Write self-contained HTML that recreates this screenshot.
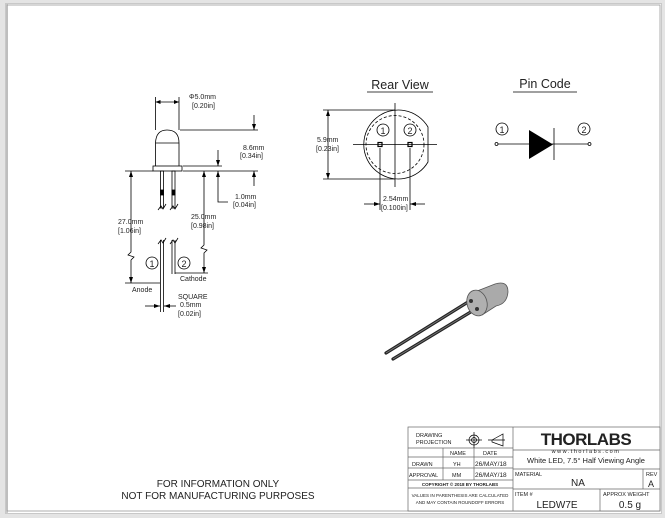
<!DOCTYPE html>
<html><head><meta charset="utf-8"><style>
html,body{margin:0;padding:0;background:#fff}
svg{display:block}
text{font-family:"Liberation Sans",sans-serif;fill:#222}
</style></head><body>
<svg width="665" height="518" viewBox="0 0 665 518" xmlns="http://www.w3.org/2000/svg">
<rect x="0" y="0" width="665" height="518" fill="#e4e4e4"/>
<rect x="5" y="3" width="657" height="511" fill="#fff"/>
<rect x="5.5" y="3.5" width="656" height="510" fill="none" stroke="#c8c8c8"/>
<line x1="7" y1="4" x2="7" y2="513" stroke="#bbb" stroke-width="1.5"/>
<rect x="7" y="5" width="653" height="506" fill="none" stroke="#999" stroke-width="0.8"/>

<g stroke="#000" stroke-width="0.8" fill="none">
<path d="M155.5,166 L155.5,143 Q156,130 167,130 Q179,130 179,143 L179,166"/>
<line x1="155.5" y1="143" x2="179" y2="143"/>
<rect x="153" y="166" width="29" height="5"/>
<rect x="160.5" y="171" width="3" height="37"/>
<rect x="172" y="171" width="3" height="37"/>
<rect x="160.5" y="190" width="3" height="5" fill="#000"/>
<rect x="172" y="190" width="3" height="5" fill="#000"/>
<path d="M158,210 l3,-4 l2,3 l3,-5 M170,210 l3,-4 l2,3 l3,-5"/>
<path d="M158,244 l3,-4 l2,3 l3,-5 M170,244 l3,-4 l2,3 l3,-5"/>
<line x1="160.5" y1="240" x2="160.5" y2="312"/><line x1="163.5" y1="240" x2="163.5" y2="312"/>
<line x1="172" y1="240" x2="172" y2="274"/><line x1="175" y1="240" x2="175" y2="274"/>
<line x1="155.5" y1="97" x2="155.5" y2="130"/><line x1="179" y1="97" x2="179" y2="130"/>
<line x1="155.5" y1="102" x2="179" y2="102"/>
<line x1="180" y1="130" x2="258" y2="130"/>
<line x1="254" y1="115" x2="254" y2="130"/>
<line x1="254" y1="171" x2="254" y2="186"/>
<line x1="125" y1="171" x2="153" y2="171"/>
<line x1="183" y1="171" x2="258" y2="171"/>
<line x1="183" y1="166" x2="222" y2="166"/>
<line x1="218" y1="150" x2="218" y2="166"/>
<path d="M218,171 L218,202 L228,202"/>
<path d="M131,171 L131,252 l-3,3 l6,2 l-3,3 L131,283"/>
<line x1="125" y1="283" x2="160" y2="283"/>
<path d="M204,171 L204,245 l-3,3 l6,2 l-3,3 L204,273"/>
<line x1="175" y1="273" x2="208" y2="273"/>
<circle cx="152" cy="263" r="6"/><circle cx="184" cy="263" r="6"/>
<line x1="145" y1="306" x2="160" y2="306"/><line x1="164" y1="306" x2="176" y2="306"/>
</g>
<g fill="#000">
<path d="M155.5,102 l5,-2 l0,4z M179,102 l-5,-2 l0,4z"/>
<path d="M254,130 l-2,-6 l4,0z M254,171 l-2,6 l4,0z"/>
<path d="M218,166 l-2,-6 l4,0z M218,171 l-2,6 l4,0z"/>
<path d="M131,171 l-2,6 l4,0z M131,283 l-2,-6 l4,0z"/>
<path d="M204,171 l-2,6 l4,0z M204,273 l-2,-6 l4,0z"/>
<path d="M160,306 l-6,-2 l0,4z M164,306 l6,-2 l0,4z"/>
</g>
<g font-size="7">
<text x="189" y="99">Φ5.0mm</text><text x="192" y="108">[0.20in]</text>
<text x="243" y="150">8.6mm</text><text x="240" y="158">[0.34in]</text>
<text x="235" y="199">1.0mm</text><text x="233" y="207">[0.04in]</text>
<text x="118" y="224">27.0mm</text><text x="118" y="233">[1.06in]</text>
<text x="191" y="219">25.0mm</text><text x="191" y="228">[0.98in]</text>
<text x="132" y="292">Anode</text><text x="180" y="281">Cathode</text>
<text x="178" y="299">SQUARE</text><text x="180" y="307">0.5mm</text><text x="178" y="316">[0.02in]</text>
</g>
<text x="152" y="267" font-size="9" text-anchor="middle">1</text>
<text x="184" y="267" font-size="9" text-anchor="middle">2</text>

<text x="400" y="89" font-size="12.5" text-anchor="middle">Rear View</text>
<line x1="367" y1="92" x2="433" y2="92" stroke="#000" stroke-width="0.8"/>
<g stroke="#000" stroke-width="0.8" fill="none">
<path d="M428,127 A34.5,34.5 0 1 0 428,162 Z"/>
<circle cx="395" cy="144.5" r="29" stroke-dasharray="3,2"/>
<line x1="353" y1="144.5" x2="437" y2="144.5"/>
<line x1="395" y1="103" x2="395" y2="187"/>
<rect x="378" y="142.5" width="4" height="4" stroke-width="1.2"/>
<rect x="408" y="142.5" width="4" height="4" stroke-width="1.2"/>
<circle cx="383" cy="130" r="6"/><circle cx="410" cy="130" r="6"/>
<line x1="323" y1="110" x2="395" y2="110"/><line x1="323" y1="179" x2="395" y2="179"/>
<line x1="328" y1="110" x2="328" y2="179"/>
<line x1="380" y1="148" x2="380" y2="210"/><line x1="410" y1="148" x2="410" y2="210"/>
<line x1="364" y1="204" x2="380" y2="204"/><line x1="410" y1="204" x2="425" y2="204"/>
</g>
<g fill="#000">
<path d="M328,110 l-2,6 l4,0z M328,179 l-2,-6 l4,0z M380,204 l-6,-2 l0,4z M410,204 l6,-2 l0,4z"/>
</g>
<text x="383" y="134" font-size="9" text-anchor="middle">1</text>
<text x="410" y="134" font-size="9" text-anchor="middle">2</text>
<g font-size="7"><text x="317" y="142">5.9mm</text><text x="316" y="151">[0.23in]</text>
<text x="383" y="201">2.54mm</text><text x="381" y="210">[0.100in]</text></g>

<text x="545" y="88" font-size="12.5" text-anchor="middle">Pin Code</text>
<line x1="513" y1="92" x2="577" y2="92" stroke="#000" stroke-width="0.8"/>
<g stroke="#000" stroke-width="0.8" fill="none">
<circle cx="502" cy="129" r="6"/><circle cx="584" cy="129" r="6"/>
<line x1="498" y1="144" x2="588" y2="144"/>
<circle cx="496.5" cy="144" r="1.5" fill="#fff"/><circle cx="589.5" cy="144" r="1.5" fill="#fff"/>
<line x1="554" y1="128" x2="554" y2="160"/>
</g>
<path d="M529,130 L553,144.5 L529,159Z" fill="#000"/>
<text x="502" y="133" font-size="9" text-anchor="middle">1</text>
<text x="584" y="133" font-size="9" text-anchor="middle">2</text>

<g>
<line x1="468" y1="302" x2="386" y2="353" stroke="#222" stroke-width="3.2" stroke-linecap="round"/>
<line x1="468" y1="302" x2="386" y2="353" stroke="#777" stroke-width="1"/>
<line x1="474" y1="310" x2="393" y2="359" stroke="#222" stroke-width="3.2" stroke-linecap="round"/>
<line x1="474" y1="310" x2="393" y2="359" stroke="#777" stroke-width="1"/>
<path d="M472,293 L495,284 Q508,280 508,292 Q507,304 496,306 L482,315 Z" fill="#aaa" stroke="#555" stroke-width="0.8"/>
<ellipse cx="477" cy="303" rx="10" ry="13" transform="rotate(-15 477 303)" fill="#b0b0b0" stroke="#555" stroke-width="0.8"/>
<circle cx="471" cy="301" r="2" fill="#333"/><circle cx="477" cy="309" r="2" fill="#333"/>
</g>

<text x="218" y="487" font-size="10" text-anchor="middle">FOR INFORMATION ONLY</text>
<text x="218" y="499" font-size="10" text-anchor="middle">NOT FOR MANUFACTURING PURPOSES</text>

<g stroke="#666" stroke-width="0.7" fill="none">
<rect x="408" y="427" width="252" height="84" fill="#fff"/>
<line x1="513" y1="427" x2="513" y2="511"/>
<line x1="408" y1="448" x2="513" y2="448"/>
<line x1="408" y1="457" x2="513" y2="457"/>
<line x1="408" y1="468" x2="513" y2="468"/>
<line x1="408" y1="480" x2="513" y2="480"/>
<line x1="408" y1="488" x2="513" y2="488"/>
<line x1="443" y1="448" x2="443" y2="480"/>
<line x1="474" y1="448" x2="474" y2="480"/>
<line x1="513" y1="450" x2="660" y2="450"/>
<line x1="513" y1="469" x2="660" y2="469"/>
<line x1="513" y1="489" x2="660" y2="489"/>
<line x1="643" y1="469" x2="643" y2="489"/>
<line x1="600" y1="489" x2="600" y2="511"/>
<circle cx="474" cy="440" r="5" stroke="#000"/><circle cx="474" cy="440" r="2.5" stroke="#000"/>
<line x1="466" y1="440" x2="482" y2="440" stroke="#000"/><line x1="474" y1="432" x2="474" y2="448" stroke="#000"/>
<path d="M492,440 L503,434 L503,446 L492,442 Z M488,440 L505,440" stroke="#000"/>
</g>
<g font-size="5.5">
<text x="416" y="437">DRAWING</text><text x="416" y="444">PROJECTION</text>
<text x="450" y="455">NAME</text><text x="483" y="455">DATE</text>
<text x="412" y="466">DRAWN</text><text x="453" y="466">YH</text><text x="475" y="466" font-size="6.5">26/MAY/18</text>
<text x="409" y="477">APPROVAL</text><text x="452" y="477">MM</text><text x="475" y="477" font-size="6.5">26/MAY/18</text>
<text x="460" y="486" text-anchor="middle" font-size="4.5" font-weight="bold">COPYRIGHT © 2018 BY THORLABS</text>
<text x="460" y="497" text-anchor="middle" font-size="4.5">VALUES IN PARENTHESIS ARE CALCULATED</text>
<text x="460" y="504" text-anchor="middle" font-size="4.5">AND MAY CONTAIN ROUNDOFF ERRORS</text>
<text x="515" y="476">MATERIAL</text><text x="646" y="476">REV</text>
<text x="515" y="496">ITEM #</text><text x="603" y="496">APPROX WEIGHT</text>
</g>
<text x="586" y="445" font-size="17" font-weight="bold" text-anchor="middle" letter-spacing="-0.5">THORLABS</text>
<text x="586" y="453" font-size="5.5" text-anchor="middle" letter-spacing="1.5">www.thorlabs.com</text>
<text x="586" y="463" font-size="7.5" text-anchor="middle">White LED, 7.5° Half Viewing Angle</text>
<text x="578" y="486" font-size="10" text-anchor="middle">NA</text>
<text x="651" y="487" font-size="9" text-anchor="middle">A</text>
<text x="557" y="508" font-size="10" text-anchor="middle">LEDW7E</text>
<text x="630" y="508" font-size="10" text-anchor="middle">0.5 g</text>
</svg>
</body></html>
